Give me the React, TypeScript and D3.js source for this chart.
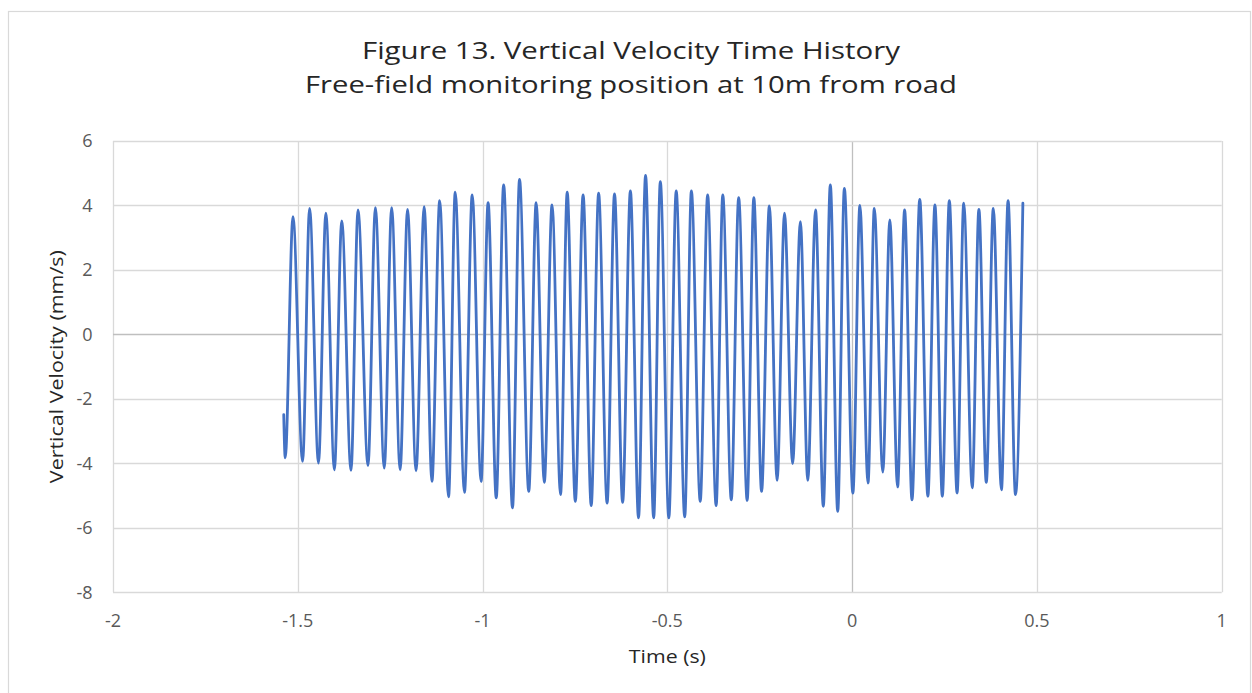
import React, { useRef, useEffect } from "react";
import * as d3 from "d3";

// Time (s) of each turning point
const timeS = [
  -1.538, -1.534, -1.513, -1.487, -1.468, -1.444, -1.424, -1.401, -1.381, -1.356,
  -1.337, -1.31, -1.29, -1.266, -1.246, -1.223, -1.203, -1.18, -1.158, -1.137,
  -1.116, -1.092, -1.074, -1.049, -1.028, -1.004, -0.985, -0.963, -0.943, -0.919,
  -0.9, -0.875, -0.855, -0.833, -0.812, -0.789, -0.771, -0.749, -0.728, -0.706,
  -0.686, -0.663, -0.643, -0.621, -0.6, -0.578, -0.559, -0.537, -0.519, -0.496,
  -0.476, -0.453, -0.435, -0.411, -0.391, -0.368, -0.35, -0.327, -0.307, -0.284,
  -0.266, -0.245, -0.224, -0.203, -0.183, -0.161, -0.14, -0.12, -0.099, -0.078,
  -0.059, -0.039, -0.021, 0.002, 0.021, 0.043, 0.06, 0.083, 0.102, 0.123,
  0.142, 0.162, 0.183, 0.205, 0.224, 0.244, 0.263, 0.284, 0.302, 0.325,
  0.343, 0.363, 0.382, 0.404, 0.422, 0.442, 0.462,
];

// Vertical velocity (mm/s) at those times
const velocity = [
  -2.49, -3.83, 3.65, -3.94, 3.91, -3.99, 3.76, -4.2, 3.52, -4.22,
  3.86, -4.07, 3.93, -4.15, 3.93, -4.2, 3.88, -4.23, 3.96, -4.56,
  4.15, -5.04, 4.41, -4.9, 4.33, -4.56, 4.09, -5.07, 4.64, -5.38,
  4.81, -4.87, 4.09, -4.59, 4.02, -4.97, 4.41, -5.18, 4.33, -5.31,
  4.38, -5.23, 4.36, -5.21, 4.45, -5.69, 4.93, -5.69, 4.74, -5.69,
  4.45, -5.66, 4.45, -5.18, 4.33, -5.31, 4.33, -5.13, 4.24, -5.15,
  4.24, -4.87, 3.99, -4.53, 3.76, -4.01, 3.5, -4.53, 3.86, -5.33,
  4.64, -5.49, 4.53, -4.92, 4.0, -4.61, 3.91, -4.27, 3.55, -4.73,
  3.86, -5.13, 4.19, -5.02, 4.02, -5.02, 4.15, -4.92, 4.07, -4.76,
  3.88, -4.59, 3.91, -4.82, 4.15, -4.97, 4.07,
];

const xTicks = [-2, -1.5, -1, -0.5, 0, 0.5, 1];
const yTicks = [-8, -6, -4, -2, 0, 2, 4, 6];

const titleLines = [
  "Figure 13. Vertical Velocity Time History",
  "Free-field monitoring position at 10m from road",
];

const App = () => {
  const ref = useRef<SVGSVGElement>(null);
  const width = 1252;
  const height = 693;
  const plot = { left: 113, right: 1221.7, top: 141, bottom: 592.3 };
  const font = "'Open Sans', 'Noto Sans', sans-serif";
  const titleWidths = [538, 652];

  useEffect(() => {
    const svg = d3.select(ref.current);
    svg.selectAll("*").remove();

    const x = d3.scaleLinear().domain([-2, 1]).range([plot.left, plot.right]);
    const y = d3.scaleLinear().domain([-8, 6]).range([plot.bottom, plot.top]);

    svg.append("rect").attr("width", width).attr("height", height).attr("fill", "#fff");

    // chart frame
    svg
      .append("rect")
      .attr("x", 8.5)
      .attr("y", 11.5)
      .attr("width", 1242)
      .attr("height", 700)
      .attr("fill", "none")
      .attr("stroke", "#d9d9d9")
      .attr("stroke-width", 1.2);

    // title
    svg
      .append("g")
      .selectAll("text")
      .data(titleLines)
      .enter()
      .append("text")
      .attr("x", 631)
      .attr("y", (d, i) => (i === 0 ? 58.5 : 92.7))
      .attr("text-anchor", "middle")
      .attr("font-family", font)
      .attr("font-size", "24px")
      .attr("textLength", (d, i) => titleWidths[i])
      .attr("lengthAdjust", "spacingAndGlyphs")
      .attr("fill", "#262626")
      .text((d) => d);

    // grid
    const grid = svg.append("g");
    grid
      .selectAll("line.v")
      .data(xTicks)
      .enter()
      .append("line")
      .attr("x1", (d) => Math.round(x(d)) + 0.5)
      .attr("x2", (d) => Math.round(x(d)) + 0.5)
      .attr("y1", plot.top)
      .attr("y2", plot.bottom)
      .attr("stroke", (d) => (d === 0 ? "#bfbfbf" : "#d9d9d9"))
      .attr("stroke-width", 1.3);
    grid
      .selectAll("line.h")
      .data(yTicks)
      .enter()
      .append("line")
      .attr("x1", plot.left)
      .attr("x2", plot.right)
      .attr("y1", (d) => Math.round(y(d)) + 0.5)
      .attr("y2", (d) => Math.round(y(d)) + 0.5)
      .attr("stroke", (d) => (d === 0 ? "#bfbfbf" : "#d9d9d9"))
      .attr("stroke-width", 1.3);

    // tick labels
    svg
      .append("g")
      .selectAll("text")
      .data(xTicks)
      .enter()
      .append("text")
      .attr("x", (d) => x(d))
      .attr("y", 626.5)
      .attr("text-anchor", "middle")
      .attr("font-family", font)
      .attr("font-size", "18px")
      .attr("fill", "#595959")
      .text((d) => String(d));

    svg
      .append("g")
      .selectAll("text")
      .data(yTicks)
      .enter()
      .append("text")
      .attr("x", 92.5)
      .attr("y", (d) => y(d))
      .attr("dy", "0.36em")
      .attr("text-anchor", "end")
      .attr("font-family", font)
      .attr("font-size", "18px")
      .attr("fill", "#595959")
      .text((d) => String(d));

    // axis titles
    svg
      .append("text")
      .attr("x", (plot.left + plot.right) / 2)
      .attr("y", 663)
      .attr("text-anchor", "middle")
      .attr("font-family", font)
      .attr("font-size", "18.5px")
      .attr("textLength", 77)
      .attr("lengthAdjust", "spacingAndGlyphs")
      .attr("fill", "#262626")
      .text("Time (s)");

    svg
      .append("text")
      .attr("transform", `translate(63, ${(plot.top + plot.bottom) / 2}) rotate(-90)`)
      .attr("text-anchor", "middle")
      .attr("font-family", font)
      .attr("font-size", "18.5px")
      .attr("textLength", 233)
      .attr("lengthAdjust", "spacingAndGlyphs")
      .attr("fill", "#262626")
      .text("Vertical Velocity (mm/s)");

    // velocity trace
    const points = timeS.map((t, i) => [t, velocity[i]] as [number, number]);
    const line = d3
      .line<[number, number]>()
      .x((d) => x(d[0]))
      .y((d) => y(d[1]))
      .curve(d3.curveMonotoneX);

    svg
      .append("path")
      .datum(points)
      .attr("d", line)
      .attr("fill", "none")
      .attr("stroke", "#4472c4")
      .attr("stroke-width", 2.8)
      .attr("stroke-linejoin", "round")
      .attr("stroke-linecap", "round");
  }, []);

  return (
    <svg
      ref={ref}
      width={width}
      height={height}
      style={{ position: "absolute", left: 0, top: 0, display: "block" }}
    ></svg>
  );
};

export default App;
